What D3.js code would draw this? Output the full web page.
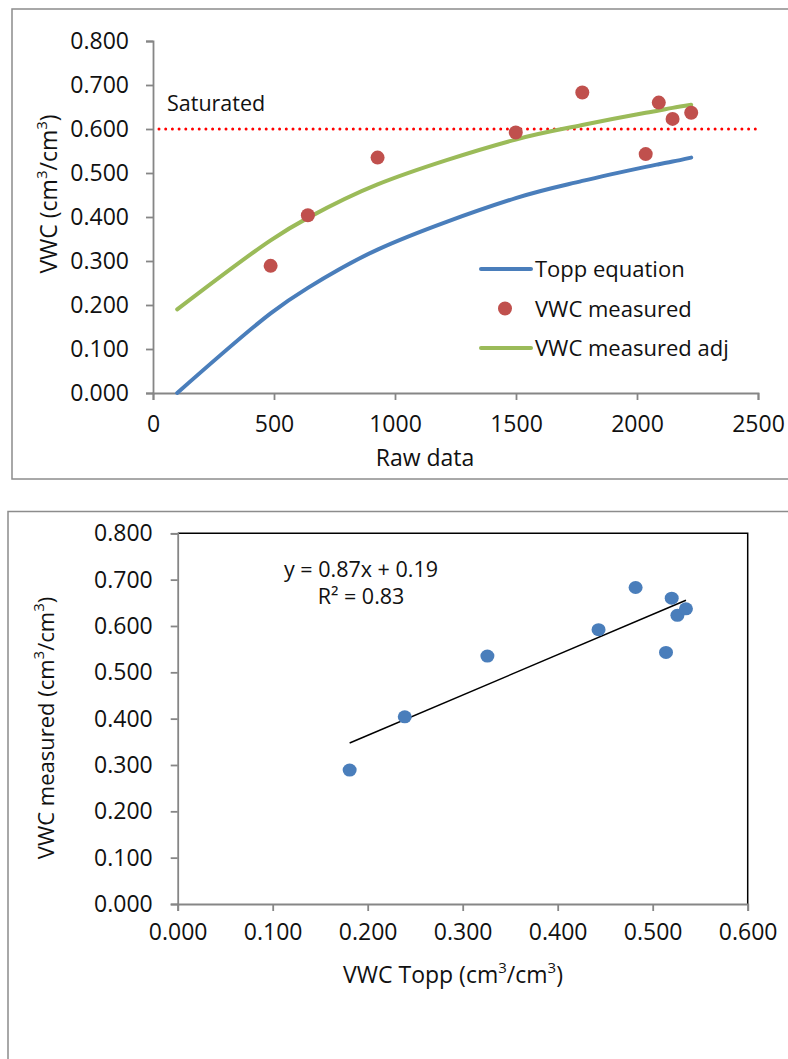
<!DOCTYPE html>
<html>
<head>
<meta charset="utf-8">
<script src="https://cdn.jsdelivr.net/npm/d3@7"></script>
<style>
  body { margin: 0; background: #fff; }
  svg { display: block; font-family: "Open Sans", sans-serif; }
  .tick text { font-size: 23px; fill: #111; }
</style>
</head>
<body>
<div id="chart"></div>
<script>
// raw sensor readings (first point is the start of the Topp curve)
const rawData = [100, 486, 640, 928, 1499, 1774, 2036, 2090, 2147, 2224];
const toppVwc = [0.000, 0.181, 0.239, 0.326, 0.443, 0.482, 0.514, 0.520, 0.526, 0.535];
const adjVwc = [0.190, 0.347, 0.398, 0.474, 0.576, 0.609, 0.637, 0.642, 0.648, 0.655];
// measured points (no value at raw = 100)
const measuredRaw = [486, 640, 928, 1499, 1774, 2036, 2090, 2147, 2224];
const measuredVwc = [0.289, 0.404, 0.535, 0.592, 0.683, 0.543, 0.660, 0.623, 0.637];
const measuredTopp = [0.181, 0.239, 0.326, 0.443, 0.482, 0.514, 0.520, 0.526, 0.535];
const saturated = 0.6;
const trendSlope = 0.87;
const trendIntercept = 0.19;
const trendLabels = ["y = 0.87x + 0.19", "R² = 0.83"];
const legendNames = ["Topp equation", "VWC measured", "VWC measured adj"];

const blue = "#4a7ebb";
const red = "#c0504d";
const green = "#9bbb59";
const axisGrey = "#868686";
const sup = '<tspan baseline-shift="super" font-size="15">3</tspan>';

const svg = d3.select("#chart").append("svg")
  .attr("width", 788).attr("height", 1059);

function styleAxis(g) {
  g.select(".domain").attr("stroke", axisGrey).attr("stroke-width", 1.8);
  g.selectAll(".tick line").attr("stroke", axisGrey).attr("stroke-width", 1.8);
  g.selectAll(".tick text").attr("font-family", "Open Sans");
}

// ---------- top chart ----------
svg.append("rect")
  .attr("x", 12).attr("y", 9).attr("width", 800).attr("height", 470)
  .attr("fill", "none").attr("stroke", "#8c8c8c").attr("stroke-width", 1.5);

const x1 = d3.scaleLinear().domain([0, 2500]).range([153, 758]);
const y1 = d3.scaleLinear().domain([0, 0.8]).range([393, 41]);

const topChart = svg.append("g");

topChart.append("g")
  .attr("transform", "translate(153,0)")
  .call(d3.axisLeft(y1).tickValues(d3.range(0, 0.81, 0.1)).tickFormat(d3.format(".3f")).tickSize(7).tickPadding(17))
  .call(styleAxis);
topChart.append("g")
  .attr("transform", "translate(0,393)")
  .call(d3.axisBottom(x1).tickValues(d3.range(0, 2501, 500)).tickFormat(d3.format("d")).tickSize(7).tickPadding(16))
  .call(styleAxis);

// saturated line
topChart.append("line")
  .attr("x1", 159).attr("x2", 756)
  .attr("y1", y1(saturated)).attr("y2", y1(saturated))
  .attr("stroke", "#ff0000").attr("stroke-width", 3)
  .attr("stroke-dasharray", "0 6.7").attr("stroke-linecap", "round");
topChart.append("text")
  .attr("x", 167).attr("y", 111)
  .attr("font-size", 21.5).attr("fill", "#111")
  .text("Saturated");

const lineTopp = d3.line()
  .x((d, i) => x1(rawData[i]))
  .y((d) => y1(d))
  .curve(d3.curveCatmullRom.alpha(0.5));

topChart.append("path").datum(adjVwc)
  .attr("d", lineTopp).attr("fill", "none")
  .attr("stroke", green).attr("stroke-width", 4).attr("stroke-linecap", "round");
topChart.append("path").datum(toppVwc)
  .attr("d", lineTopp).attr("fill", "none")
  .attr("stroke", blue).attr("stroke-width", 4).attr("stroke-linecap", "round");

topChart.selectAll("circle.meas")
  .data(measuredRaw)
  .join("circle")
  .attr("class", "meas")
  .attr("cx", (d) => x1(d))
  .attr("cy", (d, i) => y1(measuredVwc[i]))
  .attr("r", 7)
  .attr("fill", red);

// legend
const legend = topChart.append("g").attr("transform", "translate(480,269)");
legendNames.forEach((name, i) => {
  const row = legend.append("g").attr("transform", `translate(0,${i * 39.5})`);
  if (i === 1) {
    row.append("circle").attr("cx", 25).attr("cy", 0).attr("r", 7).attr("fill", red);
  } else {
    row.append("line").attr("x1", 1).attr("x2", 51).attr("y1", 0).attr("y2", 0)
      .attr("stroke", i === 0 ? blue : green).attr("stroke-width", 4).attr("stroke-linecap", "round");
  }
  row.append("text").attr("x", 55).attr("y", 8)
    .attr("font-size", 22).attr("fill", "#111").text(name);
});

// axis titles
topChart.append("text")
  .attr("transform", "translate(57,194) rotate(-90)")
  .attr("text-anchor", "middle").attr("font-size", 23).attr("fill", "#111")
  .html(`VWC (cm${sup}/cm${sup})`);
topChart.append("text")
  .attr("x", 425).attr("y", 466)
  .attr("text-anchor", "middle").attr("font-size", 23).attr("fill", "#111")
  .text("Raw data");

// ---------- bottom chart ----------
svg.append("rect")
  .attr("x", 8).attr("y", 511.5).attr("width", 800).attr("height", 600)
  .attr("fill", "none").attr("stroke", "#8c8c8c").attr("stroke-width", 1.5);

const x2 = d3.scaleLinear().domain([0, 0.6]).range([177.7, 747.7]);
const y2 = d3.scaleLinear().domain([0, 0.8]).range([904, 533.3]);

const botChart = svg.append("g");

// plot area frame (top and right in black)
botChart.append("path")
  .attr("d", `M${x2(0)},${y2(0.8)}H${x2(0.6)}V${y2(0)}`)
  .attr("fill", "none").attr("stroke", "#000").attr("stroke-width", 1.5);

botChart.append("g")
  .attr("transform", `translate(${x2(0)},0)`)
  .call(d3.axisLeft(y2).tickValues(d3.range(0, 0.81, 0.1)).tickFormat(d3.format(".3f")).tickSize(7).tickPadding(18))
  .call(styleAxis);
botChart.append("g")
  .attr("transform", `translate(0,${y2(0)})`)
  .call(d3.axisBottom(x2).tickValues(d3.range(0, 0.61, 0.1)).tickFormat(d3.format(".3f")).tickSize(7).tickPadding(13))
  .call(styleAxis);

// trendline over the data range
const tx = d3.extent(measuredTopp);
botChart.append("line")
  .attr("x1", x2(tx[0])).attr("y1", y2(trendSlope * tx[0] + trendIntercept))
  .attr("x2", x2(tx[1])).attr("y2", y2(trendSlope * tx[1] + trendIntercept))
  .attr("stroke", "#000").attr("stroke-width", 1.5);

botChart.selectAll("ellipse")
  .data(measuredTopp)
  .join("ellipse")
  .attr("cx", (d) => x2(d))
  .attr("cy", (d, i) => y2(measuredVwc[i]))
  .attr("rx", 7).attr("ry", 6.5)
  .attr("fill", blue);

trendLabels.forEach((t, i) => {
  botChart.append("text")
    .attr("x", 361).attr("y", 577 + i * 26.5)
    .attr("text-anchor", "middle").attr("font-size", 21.5).attr("fill", "#111")
    .text(t);
});

botChart.append("text")
  .attr("transform", "translate(54,728) rotate(-90)")
  .attr("text-anchor", "middle").attr("font-size", 22).attr("fill", "#111")
  .html(`VWC measured (cm${sup}/cm${sup})`);
botChart.append("text")
  .attr("x", 453).attr("y", 983)
  .attr("text-anchor", "middle").attr("font-size", 23).attr("fill", "#111")
  .html(`VWC Topp (cm${sup}/cm${sup})`);
</script>
</body>
</html>
